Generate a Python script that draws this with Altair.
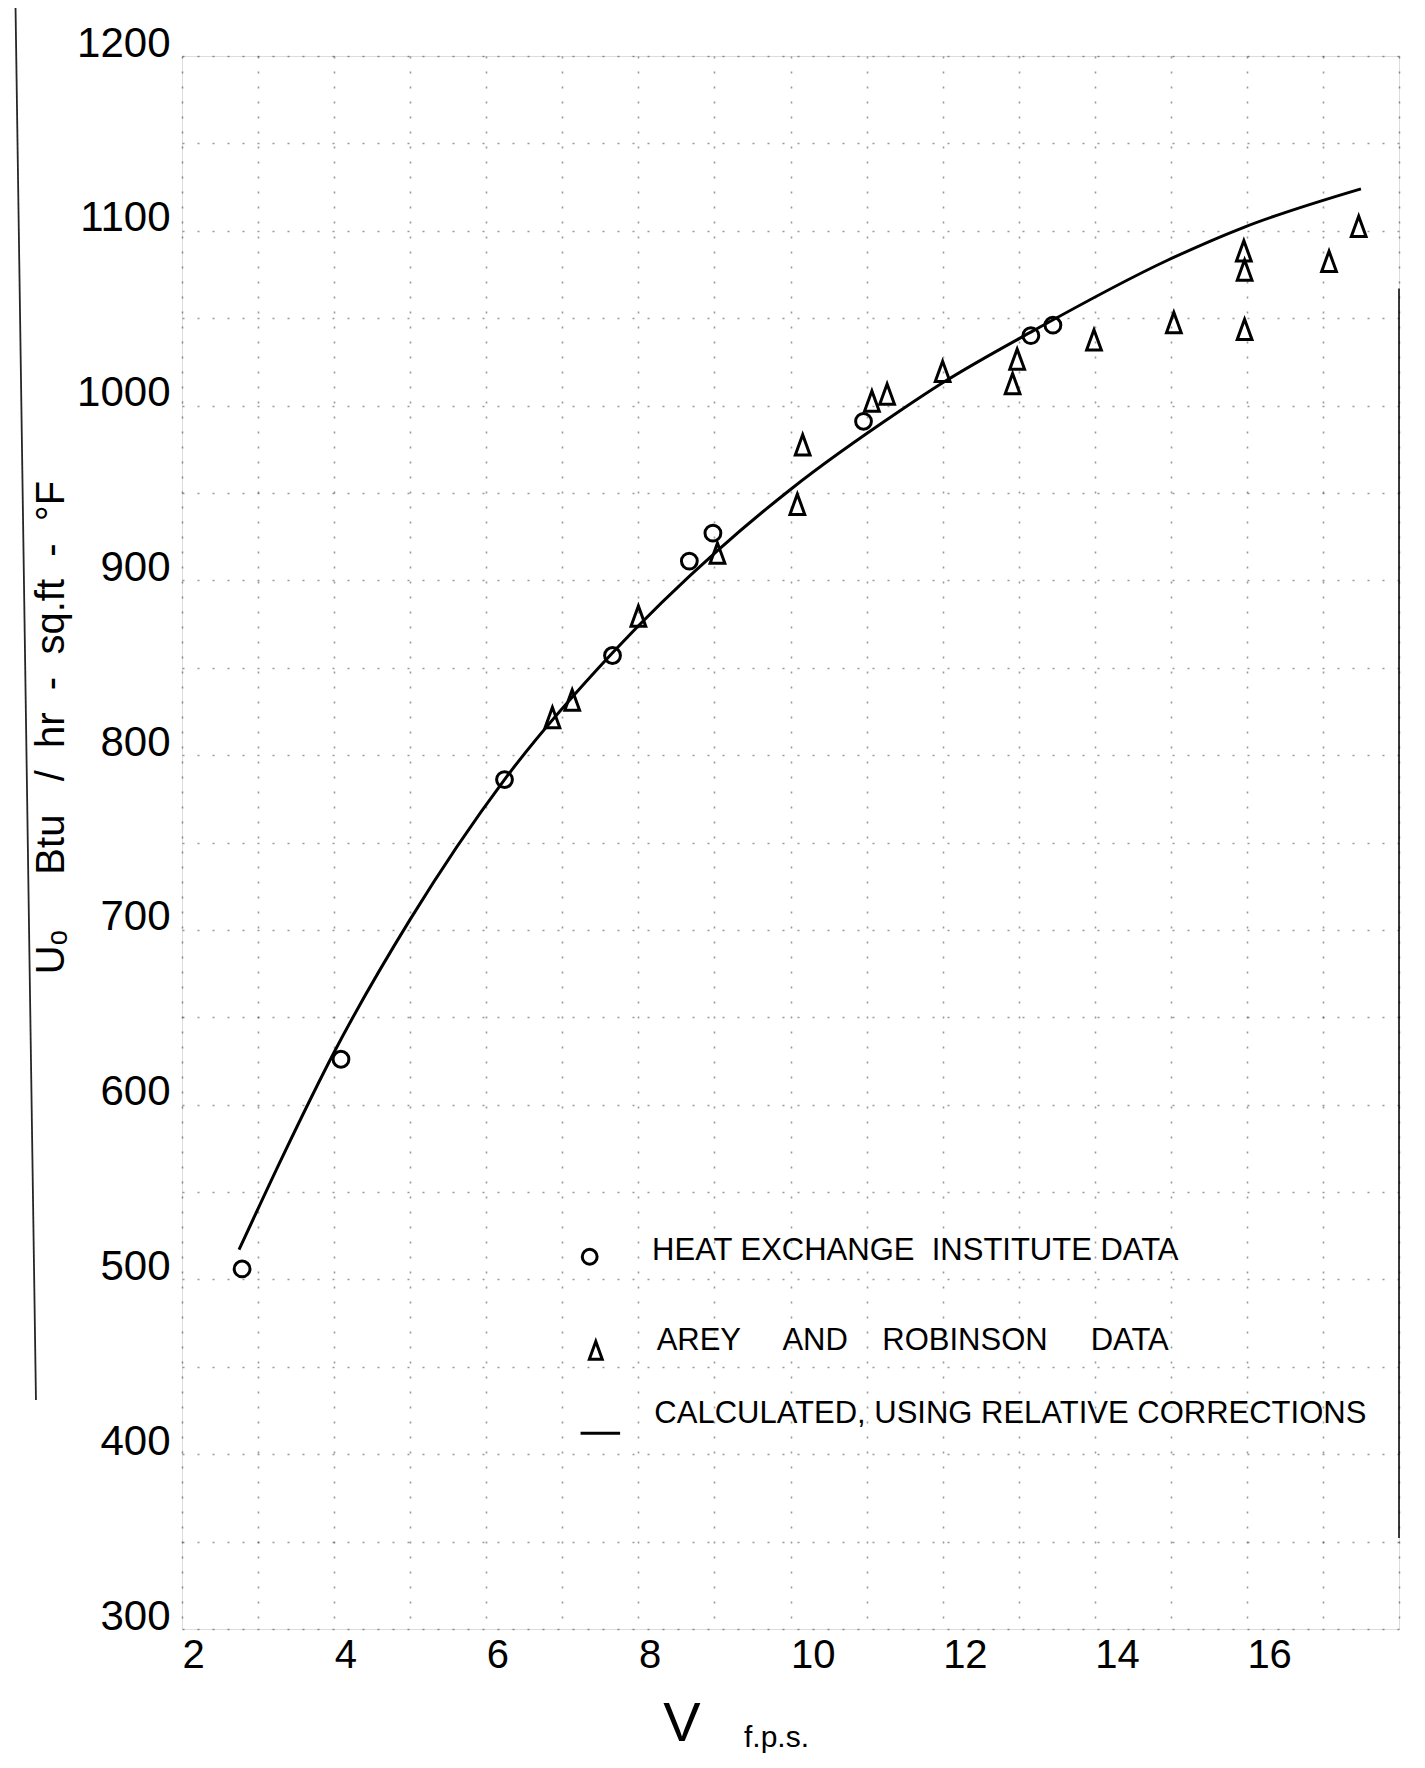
import altair as alt
import pandas as pd

# ---- data ----
# Heat Exchange Institute data (open circles)
hei_v = [2.79, 4.09, 6.24, 7.66, 8.67, 8.98, 10.96, 13.16, 13.45]
hei_u = [506, 626, 786, 857, 911, 927, 991, 1040, 1046]

# Arey and Robinson data (open triangles)
ar_v = [6.87, 7.13, 8.0, 9.04, 10.09, 10.16, 11.07, 11.27, 12.0, 12.92, 12.98,
        13.99, 15.04, 15.97, 15.97, 15.96, 17.08, 17.47]
ar_u = [821, 831, 879, 915, 943, 977, 1002, 1006, 1019, 1012, 1026,
        1037, 1047, 1043, 1077, 1088, 1082, 1102]

# Calculated curve (relative corrections)
calc_v = [2.75, 3.33, 4.0, 5.0, 6.24, 7.67, 9.04, 10.0, 11.44, 12.0, 13.2,
          14.95, 15.96, 17.5]
calc_u = [517, 571, 630, 706, 786, 859, 917, 952, 997, 1013, 1043,
          1083, 1102, 1124]

x_ticks = list(range(2, 19))
y_ticks = list(range(300, 1201, 50))

NB = "\u00a0"
legend_texts = [
    "HEAT EXCHANGE" + NB + " INSTITUTE DATA",
    "AREY" + NB * 4 + " AND" + NB * 3 + " ROBINSON" + NB * 4 + " DATA",
    "CALCULATED, USING RELATIVE CORRECTIONS",
]
y_title = ("U\u2092" + NB * 4 + " Btu" + NB * 2 + " /" + NB + " hr" + NB + " -" + NB +
           " sq.ft" + NB + " -" + NB + " \u00b0F")

FONT = "Liberation Sans"
W, H = 1217, 1573
TRI = "M0,-1.2L-0.8,1L0.8,1Z"

xs = alt.Scale(domain=[2, 18], nice=False, zero=False)
ys = alt.Scale(domain=[300, 1200], nice=False, zero=False)

calc_df = pd.DataFrame({"v": calc_v, "u": calc_u})
hei_df = pd.DataFrame({"v": hei_v, "u": hei_u})
ar_df = pd.DataFrame({"v": ar_v, "u": ar_u})

x_axis = alt.Axis(
    values=x_ticks,
    labelExpr="datum.value % 2 == 0 && datum.value < 18 ? datum.label : ''",
    format="d",
    grid=True, gridDash=[2, 13], gridColor="#000000", gridOpacity=0.4, gridWidth=1.6,
    domain=False, ticks=False,
    labelFont=FONT, labelFontSize=40, labelColor="#000000",
    labelAlign="left", labelBaseline="top", labelPadding=6, labelOverlap=False,
    title=None,
)
y_axis = alt.Axis(
    values=y_ticks,
    labelExpr="datum.value % 100 == 0 ? datum.label : ''",
    format="d",
    grid=True, gridDash=[2, 13], gridColor="#000000", gridOpacity=0.4, gridWidth=1.6,
    domain=False, ticks=False,
    labelFont=FONT, labelFontSize=42, labelColor="#000000",
    labelAlign="right", labelBaseline="alphabetic", labelPadding=12, labelOverlap=False,
    title=y_title,
    titleFont=FONT, titleFontSize=40, titleFontWeight="normal", titleColor="#000000",
    titleAngle=270, titleAlign="center", titleBaseline="middle",
    titleX=-131, titleY=671,
)

curve = alt.Chart(calc_df).mark_line(
    color="#000000", strokeWidth=3, interpolate="monotone"
).encode(
    x=alt.X("v:Q", scale=xs, axis=x_axis),
    y=alt.Y("u:Q", scale=ys, axis=y_axis),
)

circles = alt.Chart(hei_df).mark_point(
    shape="circle", filled=False, color="#000000", size=250, strokeWidth=3, opacity=1
).encode(x=alt.X("v:Q", scale=xs), y=alt.Y("u:Q", scale=ys))

triangles = alt.Chart(ar_df).mark_point(
    shape=TRI, filled=False, color="#000000", size=340, strokeWidth=3, opacity=1
).encode(x=alt.X("v:Q", scale=xs), y=alt.Y("u:Q", scale=ys))

# legend (drawn inside the plot, as in the reference)
leg_text_df = pd.DataFrame({"v": [8.18, 8.24, 8.21], "u": [516, 465, 423], "t": legend_texts})
leg_text = alt.Chart(leg_text_df).mark_text(
    align="left", baseline="middle", font=FONT, fontSize=31, color="#000000"
).encode(x=alt.X("v:Q", scale=xs), y=alt.Y("u:Q", scale=ys), text="t:N")

leg_circle = alt.Chart(pd.DataFrame({"v": [7.36], "u": [513]})).mark_point(
    shape="circle", filled=False, color="#000000", size=220, strokeWidth=3, opacity=1
).encode(x=alt.X("v:Q", scale=xs), y=alt.Y("u:Q", scale=ys))

leg_tri = alt.Chart(pd.DataFrame({"v": [7.44], "u": [459]})).mark_point(
    shape=TRI, filled=False, color="#000000", size=260, strokeWidth=3, opacity=1
).encode(x=alt.X("v:Q", scale=xs), y=alt.Y("u:Q", scale=ys))

leg_line = alt.Chart(pd.DataFrame({"v1": [7.24], "v2": [7.76], "u": [412]})).mark_rule(
    color="#000000", strokeWidth=3
).encode(x=alt.X("v1:Q", scale=xs), x2="v2:Q", y=alt.Y("u:Q", scale=ys))

# paper edges visible in the scan
edges_df = pd.DataFrame({
    "v1": [-0.19, 18.0], "v2": [0.08, 18.0],
    "u1": [1232, 1067], "u2": [431, 352],
})
edges = alt.Chart(edges_df).mark_rule(color="#000000", strokeWidth=1.8, opacity=0.85).encode(
    x=alt.X("v1:Q", scale=xs), x2="v2:Q",
    y=alt.Y("u1:Q", scale=ys), y2="u2:Q",
)

# x-axis title "V f.p.s."
one = pd.DataFrame({"a": [0]})
v_title = alt.Chart(one).mark_text(
    font=FONT, fontSize=56, color="#000000", align="center", baseline="middle"
).encode(x=alt.value(500), y=alt.value(1668), text=alt.value("V"))
fps_title = alt.Chart(one).mark_text(
    font=FONT, fontSize=30, color="#000000", align="left", baseline="middle"
).encode(x=alt.value(562), y=alt.value(1682), text=alt.value("f.p.s."))

chart = alt.layer(
    curve, circles, triangles, leg_text, leg_circle, leg_tri, leg_line, edges,
    v_title, fps_title,
).properties(
    width=W, height=H,
    autosize=alt.AutoSizeParams(type="none"),
    padding={"left": 174, "top": 48, "right": 10, "bottom": 131},
).configure_view(stroke=None).configure(background="#ffffff")

chart.save("out.html", embed_options={"renderer": "svg", "actions": False})
